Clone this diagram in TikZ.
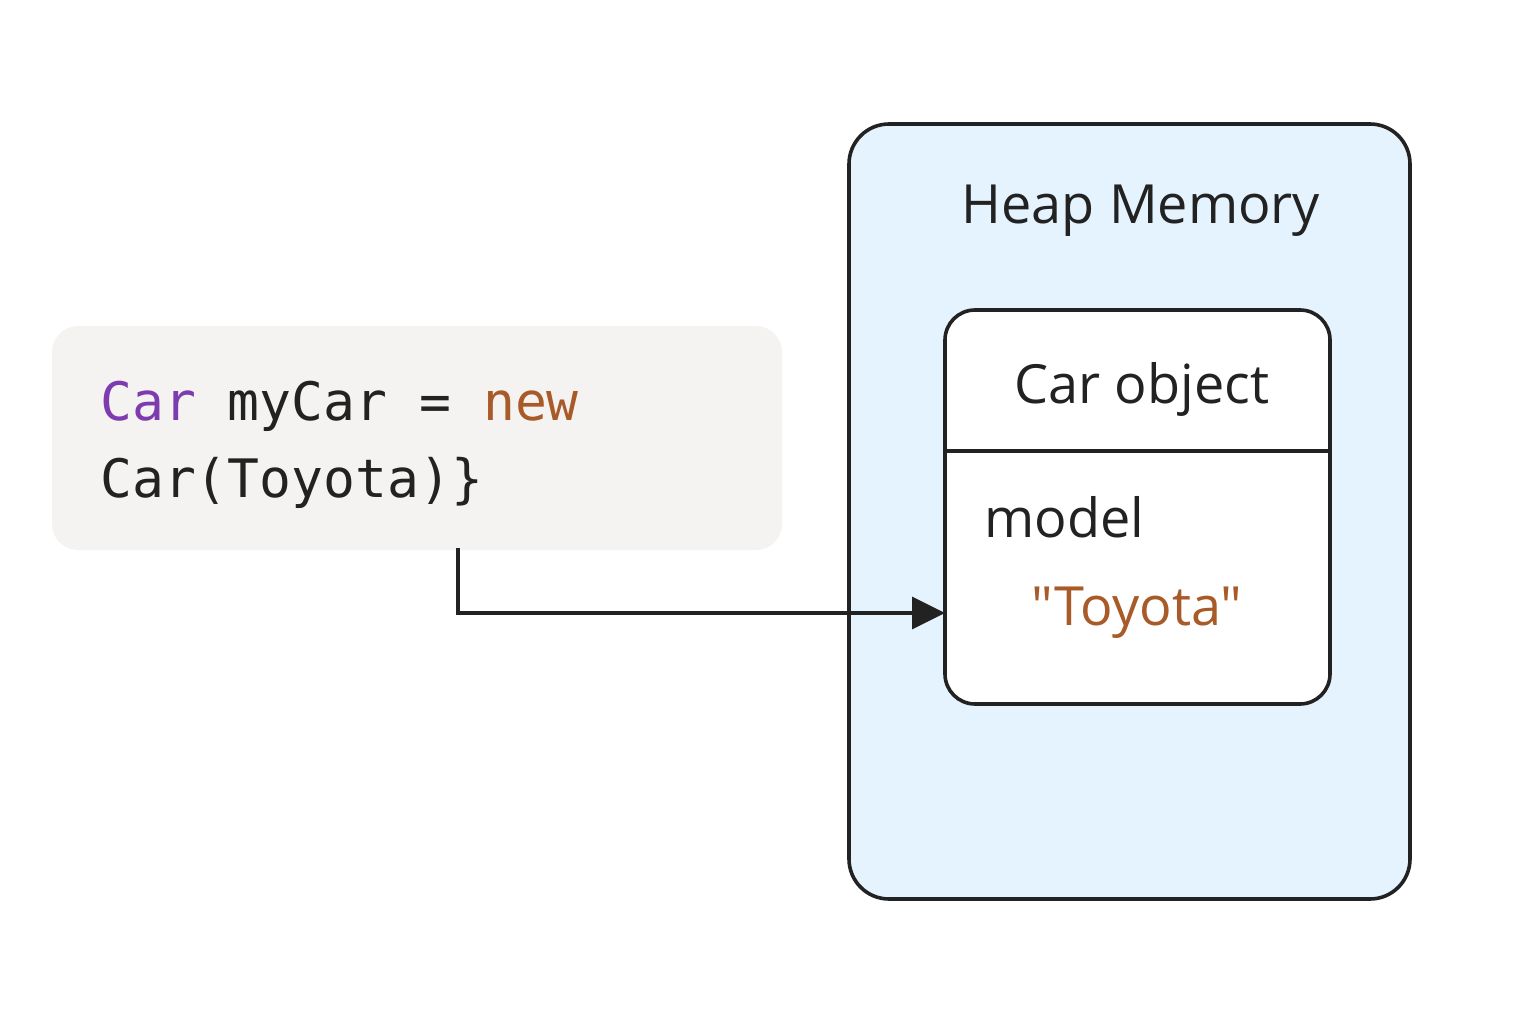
\documentclass[tikz,border=0pt]{standalone}
\usepackage{fontspec}
\setmainfont{Open Sans}
\newfontfamily\quotefont{Open Sans}[Ligatures=TeXOff]
\newfontfamily\codefont{DejaVu Sans Mono}
\usetikzlibrary{arrows.meta}
\definecolor{heapfill}{HTML}{E4F3FD}
\definecolor{codefill}{HTML}{F4F3F1}
\definecolor{ink}{HTML}{222222}
\definecolor{kwpurple}{HTML}{7E3AAF}
\definecolor{strorange}{HTML}{A85A28}
\begin{document}
\begin{tikzpicture}[x=1pt,y=-1pt,
  boxline/.style={draw=ink,line width=3.6pt},
  label/.style={text=ink,inner sep=0pt,anchor=base},
  codetext/.style={text=ink,inner sep=0pt,anchor=base west,font=\codefont\fontsize{53}{63}\selectfont},
  conn/.style={draw=ink,line width=3.6pt,-{Triangle[length=33pt,width=32pt]}}]
\useasboundingbox (0,0) rectangle (1536,1024);
% heap
\path[boxline,fill=heapfill,rounded corners=40pt] (849,124) rectangle (1410,899);
\node[label,font=\fontsize{54}{64}\selectfont] (heap) at (1141,224) {Heap Memory};
% car object
\path[boxline,fill=white,rounded corners=30pt] (945,310) rectangle (1330,704);
\coordinate (objw) at (945,613);
\draw[ink,line width=3.6pt] (945,451) -- (1330,451);
\node[label,font=\fontsize{54}{64}\selectfont] (carobj) at (1142,403) {Car object};
\node[label,anchor=base west,font=\fontsize{54}{64}\selectfont] (model) at (984,537) {model};
\node[label,text=strorange,font=\quotefont\fontsize{54}{64}\selectfont] (val) at (1137,625) {"Toyota"};
% code
\path[fill=codefill,rounded corners=26pt] (52,326) rectangle (782,550);
\coordinate (codes) at (458,548);
\node[codetext] (l1) at (100,420) {\textcolor{kwpurple}{Car} myCar = \textcolor{strorange}{new}};
\node[codetext] (l2) at (100,497) {Car(Toyota)\}};
% arrow
\draw[conn] (codes) |- (objw);
\end{tikzpicture}
\end{document}
